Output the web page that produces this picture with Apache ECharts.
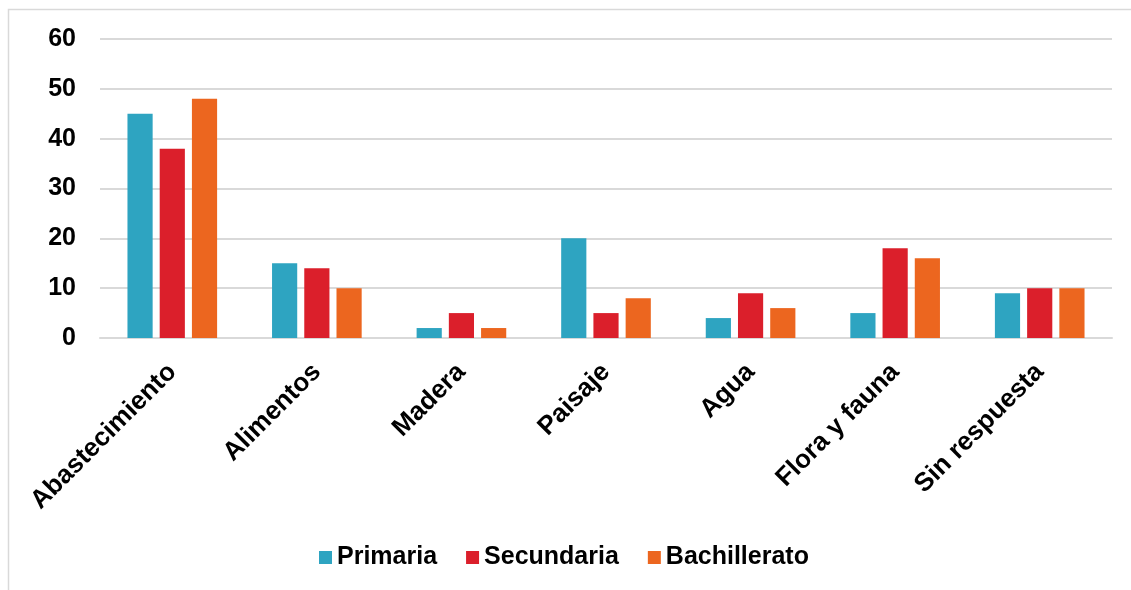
<!DOCTYPE html>
<html>
<head>
<meta charset="utf-8">
<script src="https://cdn.jsdelivr.net/npm/echarts@6/dist/echarts.min.js"></script>
<style>
  html, body { margin: 0; padding: 0; background: #fff; }
  #chart { width: 1131px; height: 590px; }
</style>
</head>
<body>
<div id="chart"></div>
<script>
var categories = ['Abastecimiento', 'Alimentos', 'Madera', 'Paisaje', 'Agua', 'Flora y fauna', 'Sin respuesta'];
var seriesNames = ['Primaria', 'Secundaria', 'Bachillerato'];
var primaria = [45, 15, 2, 20, 4, 5, 9];
var secundaria = [38, 14, 5, 5, 9, 18, 10];
var bachillerato = [48, 10, 2, 8, 6, 16, 10];
var colors = ['#2EA4C1', '#DB1F2B', '#EC661F'];

var chart = echarts.init(document.getElementById('chart'));

function makeSeries(name, data, i) {
  return {
    name: name,
    type: 'bar',
    data: data,
    barGap: '28%',
    barCategoryGap: '38%',
    itemStyle: { color: colors[i] },
    animation: false
  };
}

chart.setOption({
  textStyle: { fontFamily: 'Liberation Sans, Arial, sans-serif' },
  graphic: [{
    type: 'rect',
    shape: { x: 8.5, y: 9.5, width: 1200, height: 700 },
    style: { fill: 'none', stroke: '#d9d9d9', lineWidth: 1.5 },
    silent: true
  }],
  grid: { left: 100, right: 19, top: 39, bottom: 252, containLabel: false },
  legend: {
    data: seriesNames,
    bottom: 15,
    left: 314,
    itemWidth: 13,
    itemHeight: 13,
    itemGap: 29,
    icon: 'rect',
    textStyle: { fontSize: 25, fontWeight: 'bold', color: '#000' }
  },
  xAxis: {
    type: 'category',
    data: categories,
    axisLine: { lineStyle: { color: '#d9d9d9', width: 2 } },
    axisTick: { show: false },
    axisLabel: {
      rotate: 45,
      margin: 30,
      fontSize: 26,
      fontWeight: 'bold',
      color: '#000'
    }
  },
  yAxis: {
    type: 'value',
    min: 0,
    max: 60,
    interval: 10,
    axisLine: { show: false },
    axisTick: { show: false },
    axisLabel: { fontSize: 25, fontWeight: 'bold', color: '#000', margin: 24 },
    splitLine: { lineStyle: { color: '#d9d9d9', width: 2 } }
  },
  series: [
    makeSeries(seriesNames[0], primaria, 0),
    makeSeries(seriesNames[1], secundaria, 1),
    makeSeries(seriesNames[2], bachillerato, 2)
  ]
});
</script>
</body>
</html>
